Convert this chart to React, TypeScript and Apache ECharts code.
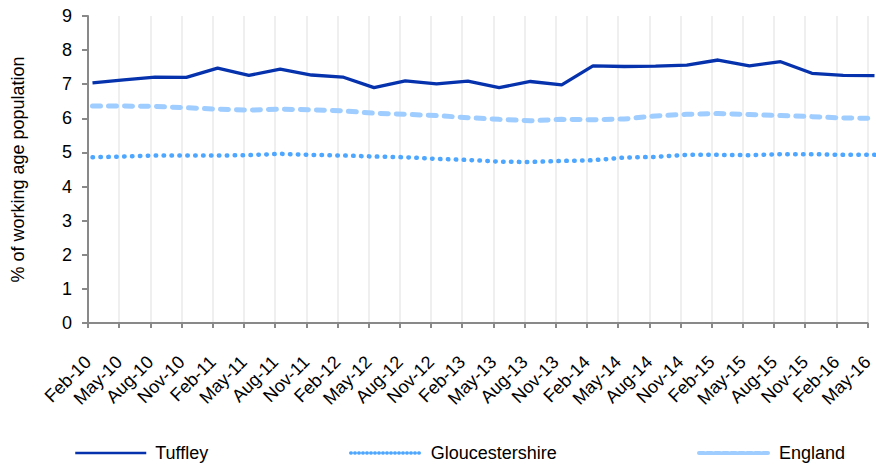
import React, { useEffect, useRef } from "react";
import * as echarts from "echarts";

const categories = [
  "Feb-10", "May-10", "Aug-10", "Nov-10",
  "Feb-11", "May-11", "Aug-11", "Nov-11",
  "Feb-12", "May-12", "Aug-12", "Nov-12",
  "Feb-13", "May-13", "Aug-13", "Nov-13",
  "Feb-14", "May-14", "Aug-14", "Nov-14",
  "Feb-15", "May-15", "Aug-15", "Nov-15",
  "Feb-16", "May-16",
];

const tuffley = [
  7.04, 7.13, 7.21, 7.2, 7.47, 7.26, 7.44, 7.27, 7.21, 6.9, 7.1, 7.01, 7.09,
  6.9, 7.08, 6.98, 7.54, 7.52, 7.53, 7.56, 7.71, 7.54, 7.66, 7.32, 7.26, 7.25,
];

const gloucestershire = [
  4.86, 4.88, 4.91, 4.91, 4.91, 4.92, 4.96, 4.93, 4.91, 4.88, 4.86, 4.81, 4.78,
  4.73, 4.72, 4.75, 4.77, 4.85, 4.87, 4.93, 4.93, 4.92, 4.95, 4.95, 4.93, 4.93,
];

const england = [
  6.36, 6.36, 6.35, 6.31, 6.27, 6.24, 6.27, 6.25, 6.22, 6.15, 6.12, 6.08, 6.02,
  5.97, 5.93, 5.97, 5.96, 5.98, 6.07, 6.12, 6.14, 6.11, 6.08, 6.05, 6.01, 6.0,
];

const yTicks = { min: 0, max: 9, interval: 1 };
const yAxisTitle = "% of working age population";

const FONT = "'Liberation Sans', Arial, sans-serif";
const C_TUF = "#0633ad";
const C_GLO = "#4da6ff";
const C_ENG = "#9fcdff";

export default function App() {
  const ref = useRef<HTMLDivElement>(null);

  useEffect(() => {
    if (!ref.current) return;
    const chart = echarts.init(ref.current, undefined, { renderer: "svg" });
    const axisColor = "#898989";
    const seriesLine = (name: string, data: number[], color: string, lineStyle: any, z: number) => ({
      name,
      type: "line",
      xAxisIndex: 1,
      yAxisIndex: 1,
      data,
      symbol: "none",
      z,
      color,
      lineStyle: { color, ...lineStyle },
    });
    const legendItem = (name: string, left: number, lineStyle: any) => ({
      left,
      top: 444,
      padding: 0,
      itemWidth: 71,
      itemHeight: 10,
      data: [{ name, lineStyle, itemStyle: { opacity: 0 } }],
      textStyle: {
        fontSize: 18,
        lineHeight: 18,
        color: "#000",
        fontFamily: FONT,
        padding: [0, 0, 0, 4],
      },
    });
    chart.setOption({
      animation: false,
      textStyle: { fontFamily: FONT },
      grid: [
        { left: 88, top: 16, width: 782, height: 307 },
        { left: 92.5, top: 16, width: 782, height: 307 },
      ],
      legend: [
        legendItem("Tuffley", 74, { width: 2.5 }),
        legendItem("Gloucestershire", 349, { width: 3.5, type: [0.5, 3.5], cap: "round" }),
        legendItem("England", 697, { width: 4, type: [5, 3], cap: "round" }),
      ],
      xAxis: [
        {
          gridIndex: 0,
          type: "category",
          data: categories,
          boundaryGap: false,
          axisLine: { show: true, lineStyle: { color: axisColor, width: 2 } },
          axisTick: { show: true, length: 5, interval: 0, lineStyle: { color: axisColor, width: 2 } },
          axisLabel: { rotate: 45, interval: 0, margin: 36, fontSize: 18, color: "#000", fontFamily: FONT },
          splitLine: { show: true, interval: 0, lineStyle: { color: "#efefef", width: 2 } },
        },
        {
          gridIndex: 1,
          type: "category",
          data: categories,
          boundaryGap: false,
          show: false,
        },
      ],
      yAxis: [
        {
          gridIndex: 0,
          type: "value",
          ...yTicks,
          name: yAxisTitle,
          nameLocation: "middle",
          nameGap: 61,
          nameTextStyle: { fontSize: 18, color: "#000", fontFamily: FONT },
          axisLine: { show: true, lineStyle: { color: axisColor, width: 2 } },
          axisTick: { show: true, length: 6, lineStyle: { color: axisColor, width: 2 } },
          axisLabel: { margin: 16, fontSize: 18, color: "#000", fontFamily: FONT },
          splitLine: { show: false },
        },
        {
          gridIndex: 1,
          type: "value",
          ...yTicks,
          show: false,
          splitLine: { show: false },
        },
      ],
      series: [
        seriesLine("Gloucestershire", gloucestershire, C_GLO, { width: 4.5, type: [0.5, 7.4], cap: "round" }, 2),
        seriesLine("England", england, C_ENG, { width: 5, type: [8, 8], cap: "round" }, 3),
        seriesLine("Tuffley", tuffley, C_TUF, { width: 3.3 }, 4),
      ],
    });
    return () => chart.dispose();
  }, []);

  return (
    <div
      ref={ref}
      style={{ position: "absolute", left: 0, top: 0, width: 876, height: 465 }}
    />
  );
}
